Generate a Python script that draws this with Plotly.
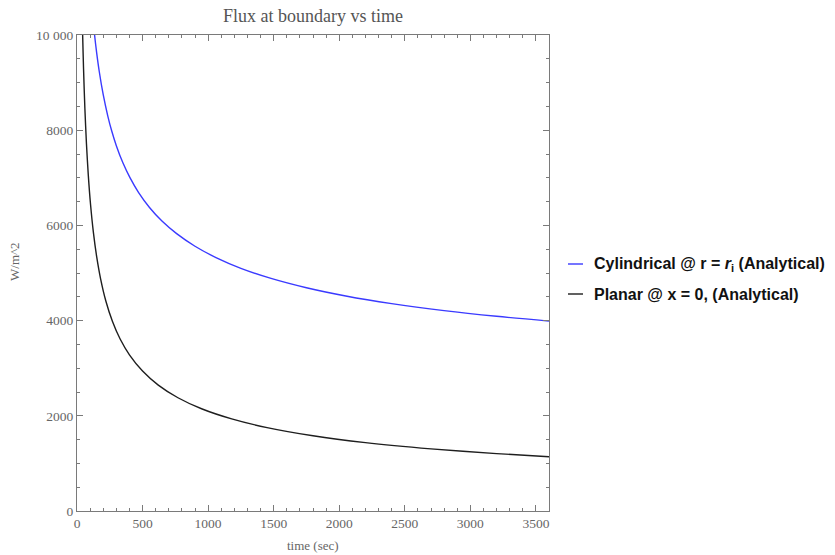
import plotly.graph_objects as go

# ---- data ----
t_cyl = [120, 134, 150, 170, 200, 235, 265, 300, 350, 404, 470, 553, 648, 760, 900, 1060, 1250, 1480, 1750, 2050, 2400, 2800, 3200, 3600]
q_cyl = [10388, 10000, 9624, 9228, 8746, 8297, 7982, 7675, 7315, 7003, 6689, 6377, 6091, 5826, 5562, 5324, 5099, 4887, 4691, 4518, 4357, 4209, 4090, 3990]

t_pla = [30, 38, 43, 50, 60, 72, 86, 103, 125, 150, 180, 220, 270, 330, 400, 500, 620, 770, 950, 1180, 1450, 1800, 2200, 2700, 3200, 3600]
q_pla = [12006, 10653, 10010, 9278, 8463, 7721, 7061, 6450, 5854, 5344, 4878, 4413, 3987, 3608, 3281, 2940, 2645, 2379, 2148, 1935, 1752, 1580, 1436, 1305, 1205, 1141]

x_ticks = [0, 500, 1000, 1500, 2000, 2500, 3000, 3500]
y_ticks = [0, 2000, 4000, 6000, 8000, 10000]
y_ticklabels = ["0", "2000", "4000", "6000", "8000", "10 000"]

title_text = "Flux at boundary vs time"
x_title = "time (sec)"
y_title = "W/m^2"
legend_labels = ["Cylindrical @ r = <i>r</i><sub>i</sub> (Analytical)", "Planar @ x = 0, (Analytical)"]
colors = ["#3a3aff", "#1e1e1e"]

serif = "Liberation Serif, Times New Roman, serif"
sans = "Liberation Sans, Arial, sans-serif"

# plot-area geometry (pixels)
L, R, T, B = 77, 549, 35, 511
W, H = 835, 555

fig = go.Figure()
fig.add_trace(go.Scatter(x=t_cyl, y=q_cyl, mode="lines",
                         line=dict(color=colors[0], width=1.4, shape="spline", smoothing=0.8), showlegend=False))
fig.add_trace(go.Scatter(x=t_pla, y=q_pla, mode="lines",
                         line=dict(color=colors[1], width=1.4, shape="spline", smoothing=0.8), showlegend=False))

axis_common = dict(
    showgrid=False, zeroline=False, showline=True, linecolor="#7a7a7a", linewidth=1.2,
    mirror="allticks", ticks="inside", ticklen=6, tickwidth=1, tickcolor="#7a7a7a",
    tickfont=dict(family=serif, size=13.5, color="#666666"), automargin=False,
)

fig.update_xaxes(range=[0, 3600], tickvals=x_ticks,
                 minor=dict(dtick=100, ticks="inside", ticklen=3, tickcolor="#7a7a7a", showgrid=False),
                 **axis_common)
fig.update_yaxes(range=[0, 10000], tickvals=y_ticks, ticktext=y_ticklabels,
                 minor=dict(dtick=500, ticks="inside", ticklen=3, tickcolor="#7a7a7a", showgrid=False),
                 **axis_common)

def px_x(x):
    return (x - L) / (R - L)

def px_y(y):
    return 1 - (y - T) / (B - T)

annotations = [
    dict(text=title_text, x=0.5, xref="paper", y=px_y(16), yref="paper", yanchor="middle",
         showarrow=False, font=dict(family=serif, size=18, color="#555555")),
    dict(text=x_title, x=0.5, xref="paper", y=px_y(545), yref="paper", yanchor="middle",
         showarrow=False, font=dict(family=serif, size=13, color="#666666")),
    dict(text=y_title, x=px_x(14), xref="paper", y=px_y(262), yref="paper", xanchor="center", yanchor="middle",
         textangle=-90, showarrow=False, font=dict(family=serif, size=13, color="#666666")),
]
shapes = []
leg_y = [264, 294]
for lab, col, yy in zip(legend_labels, colors, leg_y):
    yp = px_y(yy)
    shapes.append(dict(type="line", xref="paper", yref="paper", x0=px_x(568), x1=px_x(583), y0=yp, y1=yp,
                       line=dict(color=col, width=1.4)))
    annotations.append(dict(text="<b>" + lab + "</b>", x=px_x(592), xref="paper", y=yp, yref="paper",
                            xanchor="left", yanchor="middle", showarrow=False,
                            font=dict(family=sans, size=16, color="#111111")))

fig.update_layout(
    width=W, height=H,
    margin=dict(l=L, r=W - R, t=T, b=H - B, autoexpand=False),
    paper_bgcolor="white", plot_bgcolor="white",
    annotations=annotations, shapes=shapes,
)

fig.write_html("out.html")
